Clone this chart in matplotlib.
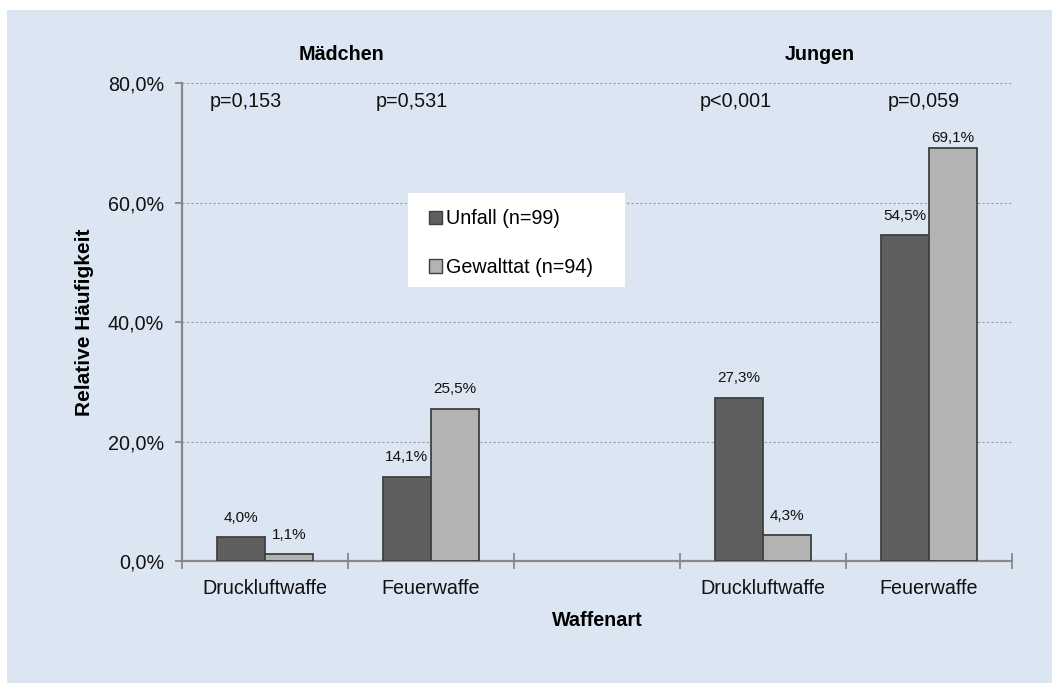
import matplotlib
matplotlib.use("Agg")
import matplotlib.pyplot as plt
from matplotlib.patches import Rectangle
from matplotlib.ticker import FuncFormatter, FixedLocator
import numpy as np

plt.rcParams['font.family'] = ['Liberation Sans', 'DejaVu Sans']

# ---- data ----
categories = ["Druckluftwaffe", "Feuerwaffe", "", "Druckluftwaffe", "Feuerwaffe"]
unfall = [4.0, 14.1, None, 27.3, 54.5]
gewalttat = [1.1, 25.5, None, 4.3, 69.1]
series_labels = ["Unfall (n=99)", "Gewalttat (n=94)"]
p_values = ["p=0,153", "p=0,531", "p<0,001", "p=0,059"]
p_slots = [0, 1, 3, 4]
group_titles = ["Mädchen", "Jungen"]
y_ticks = [0, 20, 40, 60, 80]

# ---- style ----
BG = "#dce6f2"
C_UNF = "#5f5f5f"
C_GEW = "#b3b3b3"
EDGE = "#404040"
AXC = "#888888"
FS = 14.2

fig = plt.figure(figsize=(10.52, 6.83), dpi=100, facecolor="white")
fig.patches.append(Rectangle((7 / 1052, 0), 1 - 7 / 1052, 1 - 10 / 683,
                             transform=fig.transFigure, facecolor=BG,
                             edgecolor="none", zorder=-10))

ax = fig.add_axes([182 / 1052, 1 - 561 / 683, (1012 - 182) / 1052, (561 - 83) / 683])
ax.set_facecolor(BG)
ax.patch.set_alpha(0)

x = np.arange(len(categories))
bw = 0.29
idx = [i for i, v in enumerate(unfall) if v is not None]
xu = [x[i] - bw / 2 for i in idx]
xg = [x[i] + bw / 2 for i in idx]
vu = [unfall[i] for i in idx]
vg = [gewalttat[i] for i in idx]

bu = ax.bar(xu, vu, width=bw, color=C_UNF, edgecolor=EDGE, linewidth=1.3,
            label=series_labels[0], zorder=3)
bg = ax.bar(xg, vg, width=bw, color=C_GEW, edgecolor=EDGE, linewidth=1.3,
            label=series_labels[1], zorder=3)

def fmt(v):
    return f"{v:.1f}%".replace(".", ",")

for xs, vs in ((xu, vu), (xg, vg)):
    for xx, vv in zip(xs, vs):
        off = 9 if vv < 65 else 2
        ax.annotate(fmt(vv), (xx, vv), xytext=(0, off), textcoords="offset points",
                    ha="center", va="bottom", fontsize=11, color="#111111")

ax.set_xlim(-0.5, len(categories) - 0.5)
ax.set_ylim(0, 80)

# y axis
ax.yaxis.set_major_locator(FixedLocator(y_ticks))
ax.yaxis.set_major_formatter(FuncFormatter(lambda v, p: fmt(v)))
ax.tick_params(axis="y", direction="out", length=5, width=1.3, color=AXC,
               labelsize=FS, pad=8, labelcolor="#111111")
ax.grid(axis="y", color="#9a9a9a", linestyle=(0, (2, 2)), linewidth=0.8, zorder=0)

# x axis: boundary ticks + category labels
ax.set_xticks(np.arange(-0.5, len(categories), 1.0))
ax.set_xticklabels([])
ax.set_xticks(x, minor=True)
ax.set_xticklabels(categories, minor=True)
ax.tick_params(axis="x", which="major", direction="inout", length=12, width=1.3, color=AXC)
ax.tick_params(axis="x", which="minor", length=0, labelsize=FS, pad=13, labelcolor="#111111")

for s in ("top", "right"):
    ax.spines[s].set_visible(False)
for s in ("left", "bottom"):
    ax.spines[s].set_color(AXC)
    ax.spines[s].set_linewidth(1.6)

# p-values
p_offsets = [-0.114, -0.114, -0.163, -0.03]
for s, t, o in zip(p_slots, p_values, p_offsets):
    ax.text(s + o, 76.9, t, ha="center", va="center", fontsize=FS, color="#111111")

# group titles
fig.text(342 / 1052, 1 - 54 / 683, group_titles[0], ha="center", va="center",
         fontsize=FS, fontweight="bold")
fig.text(820 / 1052, 1 - 54 / 683, group_titles[1], ha="center", va="center",
         fontsize=FS, fontweight="bold")

# axis labels
fig.text(597 / 1052, 1 - 620 / 683, "Waffenart", ha="center", va="center",
         fontsize=FS, fontweight="bold")
fig.text(84 / 1052, 1 - 322 / 683, "Relative Häufigkeit", ha="center", va="center",
         rotation=90, fontsize=15, fontweight="bold")

# legend box + legend
ax.add_patch(Rectangle((0.272, 0.573), 0.262, 0.197, transform=ax.transAxes,
                       facecolor="white", edgecolor="none", zorder=4))
leg = ax.legend(handles=[bu, bg], loc="center left", bbox_to_anchor=(0.297, 0.665),
                frameon=False, fontsize=FS, handlelength=0.7, handleheight=0.7,
                handletextpad=0.2, labelspacing=1.5, borderpad=0, borderaxespad=0)
for h in leg.legend_handles:
    h.set_linewidth(1.0)
leg.set_zorder(6)

fig.savefig("out.png", dpi=100, facecolor=fig.get_facecolor())
